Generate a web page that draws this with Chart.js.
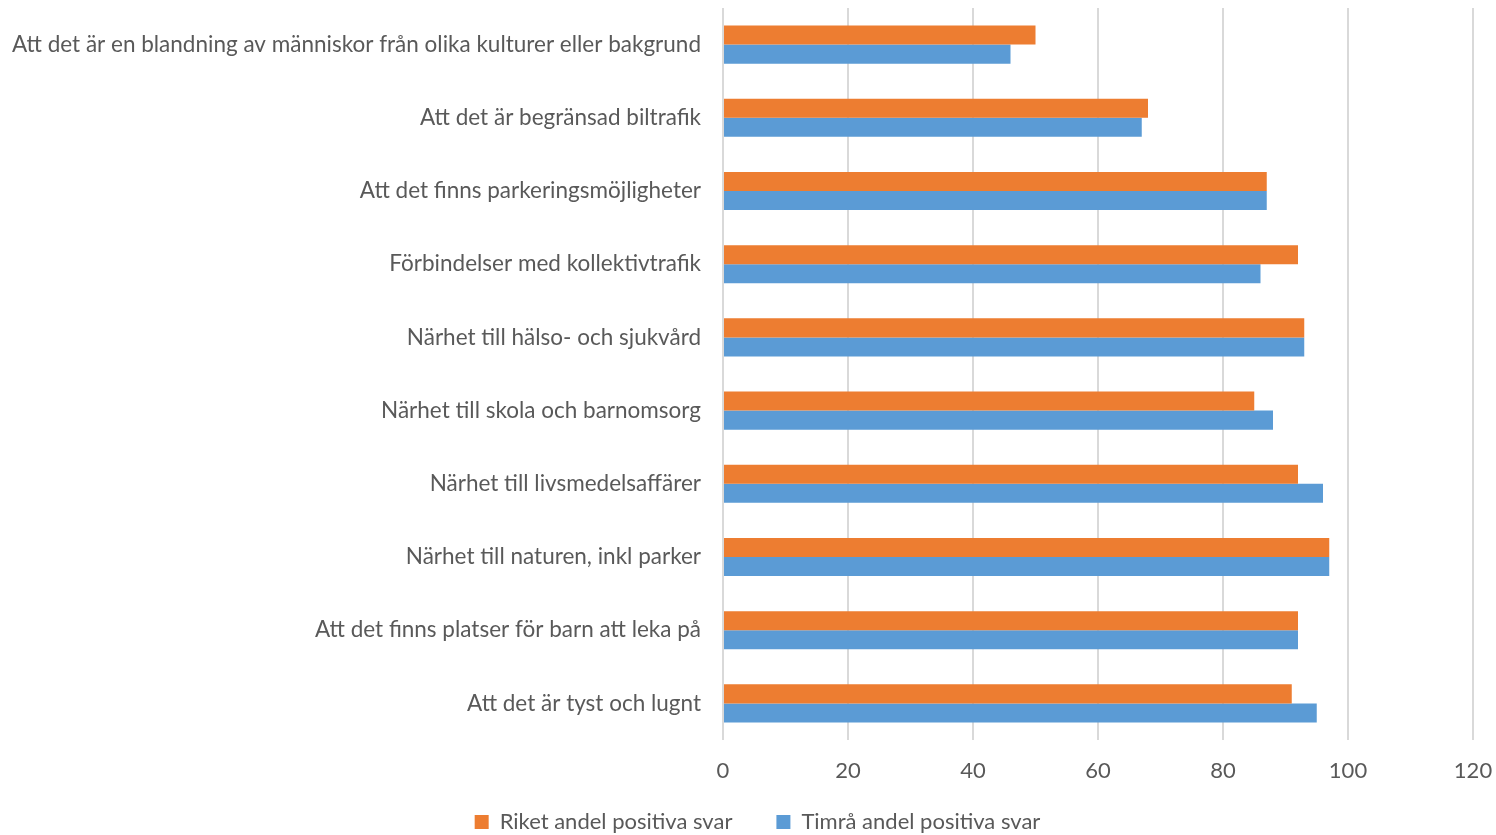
<!DOCTYPE html>
<html>
<head>
<meta charset="utf-8">
<script src="https://cdn.jsdelivr.net/npm/chart.js@4"></script>
<style>
  html, body { margin: 0; padding: 0; background: #fff; }
  #wrap { width: 1496px; height: 835px; }
</style>
</head>
<body>
<div id="wrap"><canvas id="chart"></canvas></div>
<script>
// Data
const categories = [
  'Att det är en blandning av människor från olika kulturer eller bakgrund',
  'Att det är begränsad biltrafik',
  'Att det finns parkeringsmöjligheter',
  'Förbindelser med kollektivtrafik',
  'Närhet till hälso- och sjukvård',
  'Närhet till skola och barnomsorg',
  'Närhet till livsmedelsaffärer',
  'Närhet till naturen, inkl parker',
  'Att det finns platser för barn att leka på',
  'Att det är tyst och lugnt'
];
const riket = [50, 68, 87, 92, 93, 85, 92, 97, 92, 91];
const timra = [46, 67, 87, 86, 93, 88, 96, 97, 92, 95];
const seriesNames = ['Riket andel positiva svar', 'Timrå andel positiva svar'];

const FONT = 'Lato';
const TEXT = '#595959';

// legend padding doubles as the gap between items, so cap the box height
// and nudge the centred row a bit to the right
const LegendEl = Chart.registry.getPlugin('legend')._element;
const legendFit = LegendEl.prototype.fit;
LegendEl.prototype.fit = function () {
  legendFit.call(this);
  this.height = 68;
  if (this.lineWidths && this.lineWidths.length) this.lineWidths[0] -= 42;
};

const ctx = document.getElementById('chart').getContext('2d');

const chart = new Chart(ctx, {
  type: 'bar',
  data: {
    labels: categories,
    datasets: [
      {
        label: seriesNames[0],
        data: riket,
        backgroundColor: '#ED7D31',
        borderWidth: 0,
        categoryPercentage: 0.52,
        barPercentage: 1
      },
      {
        label: seriesNames[1],
        data: timra,
        backgroundColor: '#5B9BD5',
        borderWidth: 0,
        categoryPercentage: 0.52,
        barPercentage: 1
      }
    ]
  },
  options: {
    indexAxis: 'y',
    responsive: true,
    maintainAspectRatio: false,
    animation: false,
    layout: { padding: { top: 8, right: 23, left: 0, bottom: 0 } },
    plugins: {
      legend: {
        position: 'bottom',
        labels: {
          color: TEXT,
          font: { family: FONT, size: 22 },
          boxWidth: 14,
          boxHeight: 14,
          padding: 44
        }
      },
      tooltip: { enabled: false }
    },
    scales: {
      x: {
        min: 0,
        max: 120,
        border: { display: false },
        grid: { color: '#d9d9d9', lineWidth: 2, drawTicks: false },
        ticks: {
          stepSize: 20,
          color: TEXT,
          font: { family: FONT, size: 22 },
          padding: 18
        },
        afterFit: (scale) => {
          scale.height = 27;
          scale.paddingLeft = 0;
          scale.paddingRight = 0;
          scale._computeLabelArea = () => undefined;
        }
      },
      y: {
        border: { display: false },
        grid: { display: false, drawTicks: false },
        ticks: {
          color: TEXT,
          font: { family: FONT, size: 22.5 },
          padding: 22
        },
        afterFit: (scale) => {
          scale.width = 723;
          scale.paddingTop = 0;
          scale.paddingBottom = 0;
        }
      }
    }
  }
});
</script>
</body>
</html>
